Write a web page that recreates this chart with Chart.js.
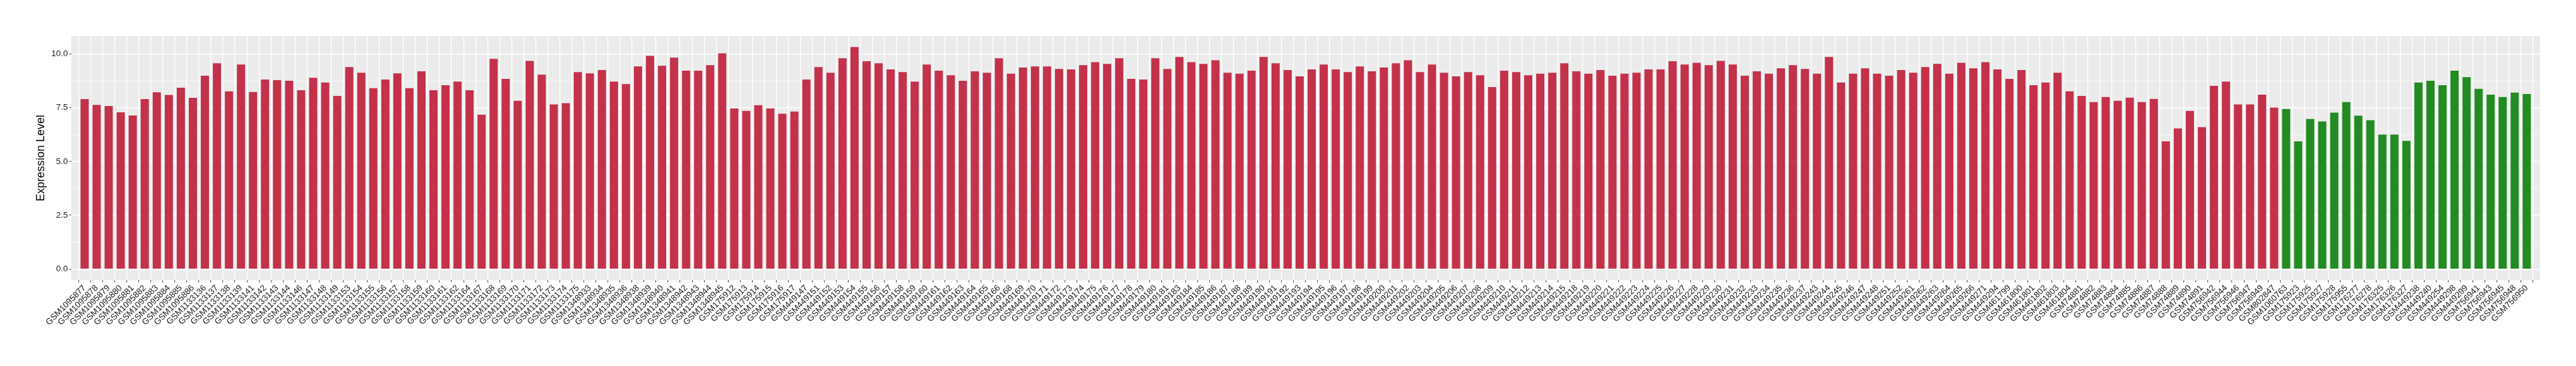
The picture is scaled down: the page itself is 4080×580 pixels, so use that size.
<!DOCTYPE html>
<html>
<head>
<meta charset="utf-8">
<title>Expression Level</title>
<script src="https://cdn.jsdelivr.net/npm/chart.js@4.4.1/dist/chart.umd.min.js"></script>
<style>
  html, body { margin: 0; padding: 0; background: #ffffff; }
  canvas { display: block; }
</style>
</head>
<body>
<canvas id="exprChart" width="4080" height="580"></canvas>
<script>
// tumour samples (red bars)
const tumorSamples = [
  'GSM1095877', 'GSM1095878', 'GSM1095879', 'GSM1095880', 'GSM1095881', 'GSM1095882', 'GSM1095883', 'GSM1095884', 'GSM1095885', 'GSM1095886',
  'GSM1133136', 'GSM1133137', 'GSM1133138', 'GSM1133139', 'GSM1133141', 'GSM1133142', 'GSM1133143', 'GSM1133144', 'GSM1133146', 'GSM1133147',
  'GSM1133148', 'GSM1133149', 'GSM1133153', 'GSM1133154', 'GSM1133155', 'GSM1133156', 'GSM1133157', 'GSM1133158', 'GSM1133159', 'GSM1133160',
  'GSM1133161', 'GSM1133162', 'GSM1133164', 'GSM1133167', 'GSM1133168', 'GSM1133169', 'GSM1133170', 'GSM1133171', 'GSM1133172', 'GSM1133173',
  'GSM1133174', 'GSM1133175', 'GSM1348933', 'GSM1348934', 'GSM1348935', 'GSM1348936', 'GSM1348938', 'GSM1348939', 'GSM1348940', 'GSM1348941',
  'GSM1348942', 'GSM1348943', 'GSM1348944', 'GSM1348945', 'GSM175912', 'GSM175913', 'GSM175914', 'GSM175915', 'GSM175916', 'GSM175917',
  'GSM449147', 'GSM449151', 'GSM449152', 'GSM449153', 'GSM449154', 'GSM449155', 'GSM449156', 'GSM449157', 'GSM449158', 'GSM449159',
  'GSM449160', 'GSM449161', 'GSM449162', 'GSM449163', 'GSM449164', 'GSM449165', 'GSM449166', 'GSM449168', 'GSM449169', 'GSM449170',
  'GSM449171', 'GSM449172', 'GSM449173', 'GSM449174', 'GSM449175', 'GSM449176', 'GSM449177', 'GSM449178', 'GSM449179', 'GSM449180',
  'GSM449181', 'GSM449183', 'GSM449184', 'GSM449185', 'GSM449186', 'GSM449187', 'GSM449188', 'GSM449189', 'GSM449190', 'GSM449191',
  'GSM449192', 'GSM449193', 'GSM449194', 'GSM449195', 'GSM449196', 'GSM449197', 'GSM449198', 'GSM449199', 'GSM449200', 'GSM449201',
  'GSM449202', 'GSM449203', 'GSM449204', 'GSM449205', 'GSM449206', 'GSM449207', 'GSM449208', 'GSM449209', 'GSM449210', 'GSM449211',
  'GSM449212', 'GSM449213', 'GSM449214', 'GSM449215', 'GSM449218', 'GSM449219', 'GSM449220', 'GSM449221', 'GSM449222', 'GSM449223',
  'GSM449224', 'GSM449225', 'GSM449226', 'GSM449227', 'GSM449228', 'GSM449229', 'GSM449230', 'GSM449231', 'GSM449232', 'GSM449233',
  'GSM449234', 'GSM449235', 'GSM449236', 'GSM449237', 'GSM449243', 'GSM449244', 'GSM449245', 'GSM449246', 'GSM449247', 'GSM449248',
  'GSM449251', 'GSM449252', 'GSM449261', 'GSM449262', 'GSM449263', 'GSM449264', 'GSM449265', 'GSM449266', 'GSM449271', 'GSM449294',
  'GSM461799', 'GSM461800', 'GSM461801', 'GSM461802', 'GSM461803', 'GSM461804', 'GSM74881', 'GSM74882', 'GSM74883', 'GSM74884',
  'GSM74885', 'GSM74886', 'GSM74887', 'GSM74888', 'GSM74889', 'GSM74890', 'GSM74891', 'GSM756942', 'GSM756944', 'GSM756946',
  'GSM756947', 'GSM756949', 'GSM802847'
];
const tumorValues = [
  7.90, 7.63, 7.58, 7.29, 7.14, 7.90, 8.22, 8.09, 8.43, 7.96,
  8.99, 9.57, 8.26, 9.51, 8.23, 8.81, 8.78, 8.75, 8.31, 8.89,
  8.67, 8.05, 9.39, 9.13, 8.41, 8.81, 9.10, 8.41, 9.19, 8.31,
  8.55, 8.72, 8.31, 7.18, 9.77, 8.84, 7.82, 9.68, 9.04, 7.65,
  7.71, 9.16, 9.10, 9.25, 8.72, 8.60, 9.42, 9.91, 9.45, 9.83,
  9.22, 9.22, 9.48, 10.03, 7.47, 7.35, 7.62, 7.47, 7.22, 7.32,
  8.81, 9.39, 9.13, 9.80, 10.32, 9.66, 9.57, 9.28, 9.16, 8.72,
  9.51, 9.22, 9.01, 8.75, 9.19, 9.13, 9.80, 9.08, 9.37, 9.42,
  9.42, 9.30, 9.28, 9.48, 9.62, 9.54, 9.80, 8.84, 8.81, 9.80,
  9.30, 9.86, 9.62, 9.54, 9.71, 9.13, 9.08, 9.22, 9.86, 9.57,
  9.25, 8.96, 9.28, 9.51, 9.28, 9.16, 9.42, 9.19, 9.37, 9.57,
  9.71, 9.16, 9.51, 9.13, 8.96, 9.16, 9.01, 8.46, 9.22, 9.16,
  9.01, 9.08, 9.13, 9.57, 9.19, 9.08, 9.25, 8.99, 9.08, 9.13,
  9.28, 9.28, 9.66, 9.51, 9.59, 9.48, 9.68, 9.51, 8.99, 9.19,
  9.08, 9.33, 9.48, 9.30, 9.08, 9.86, 8.67, 9.08, 9.33, 9.08,
  8.99, 9.25, 9.13, 9.39, 9.54, 9.08, 9.59, 9.33, 9.62, 9.28,
  8.84, 9.25, 8.55, 8.67, 9.13, 8.26, 8.05, 7.76, 8.00, 7.82,
  7.97, 7.76, 7.91, 5.94, 6.54, 7.35, 6.60, 8.52, 8.72, 7.65,
  7.65, 8.11, 7.51
];

// normal samples (green bars)
const normalSamples = [
  'GSM1060763', 'GSM175923', 'GSM175925', 'GSM175927', 'GSM175928', 'GSM175955', 'GSM176277', 'GSM176278', 'GSM176325', 'GSM176326',
  'GSM176327', 'GSM449238', 'GSM449240', 'GSM449254', 'GSM449298', 'GSM449299', 'GSM756941', 'GSM756943', 'GSM756945', 'GSM756948',
  'GSM756950'
];
const normalValues = [
  7.44, 5.94, 6.98, 6.86, 7.27, 7.76, 7.13, 6.92, 6.25, 6.25,
  5.96, 8.67, 8.75, 8.55, 9.22, 8.92, 8.38, 8.11, 8.00, 8.20,
  8.14
];

const yTicks = [0, 2.5, 5, 7.5, 10];

const samples = tumorSamples.concat(normalSamples);
const values = tumorValues.concat(normalValues);
const barColors = tumorSamples.map(() => '#C3314A').concat(normalSamples.map(() => '#228B22'));
const yMinor = yTicks.slice(1).map((t, i) => (t + yTicks[i]) / 2);
const yAll = yTicks.concat(yMinor).sort((a, b) => a - b);
const isMajor = v => yTicks.includes(v);
const yTop = Math.max(...values);

// grey ggplot-style panel behind the grid
const panelBackground = {
  id: 'panelBackground',
  beforeDraw(chart) {
    const { ctx, chartArea } = chart;
    ctx.save();
    ctx.fillStyle = '#EBEBEB';
    ctx.fillRect(chartArea.left, chartArea.top, chartArea.right - chartArea.left, chartArea.bottom - chartArea.top);
    ctx.restore();
  }
};

const font = { family: "'Liberation Sans', Arial, sans-serif", size: 13.5 };

new Chart(document.getElementById('exprChart'), {
  type: 'bar',
  data: {
    datasets: [{
      data: samples.map((s, i) => ({ x: i, y: values[i] })),
      backgroundColor: barColors,
      borderWidth: 0,
      barPercentage: 0.68,
      categoryPercentage: 1
    }]
  },
  options: {
    responsive: false,
    animation: false,
    layout: { padding: { top: 57, right: 57, left: 0, bottom: 0 } },
    plugins: {
      legend: { display: false },
      tooltip: { enabled: false }
    },
    scales: {
      x: {
        type: 'linear',
        min: -0.6,
        max: samples.length - 0.4,
        afterBuildTicks: scale => { scale.ticks = samples.map((s, i) => ({ value: i })); },
        afterFit: scale => { scale.height = 136; },
        grid: { color: '#FFFFFF', lineWidth: 1.4, tickLength: 3.5, tickColor: '#333333', tickWidth: 1 },
        border: { display: false },
        ticks: {
          autoSkip: false,
          maxRotation: 45,
          minRotation: 45,
          padding: 1,
          color: '#1A1A1A',
          font: font,
          callback: v => samples[v]
        }
      },
      y: {
        min: -0.05 * yTop,
        max: 1.05 * yTop,
        afterBuildTicks: scale => { scale.ticks = yAll.map(v => ({ value: v })); },
        afterFit: scale => { scale.width = 113; },
        grid: {
          color: '#FFFFFF',
          lineWidth: c => (c.tick && isMajor(c.tick.value)) ? 1.4 : 0.7,
          tickLength: 3.5,
          tickWidth: 1,
          tickColor: c => (c.tick && isMajor(c.tick.value)) ? '#333333' : 'rgba(0,0,0,0)'
        },
        border: { display: false },
        ticks: {
          padding: 2,
          color: '#1A1A1A',
          font: font,
          callback: v => isMajor(v) ? v.toFixed(1) : ''
        },
        title: {
          display: true,
          text: 'Expression Level',
          color: '#000000',
          font: { family: "'Liberation Sans', Arial, sans-serif", size: 18 },
          padding: { top: 54, bottom: 0 }
        }
      }
    }
  },
  plugins: [panelBackground]
});
</script>
</body>
</html>
